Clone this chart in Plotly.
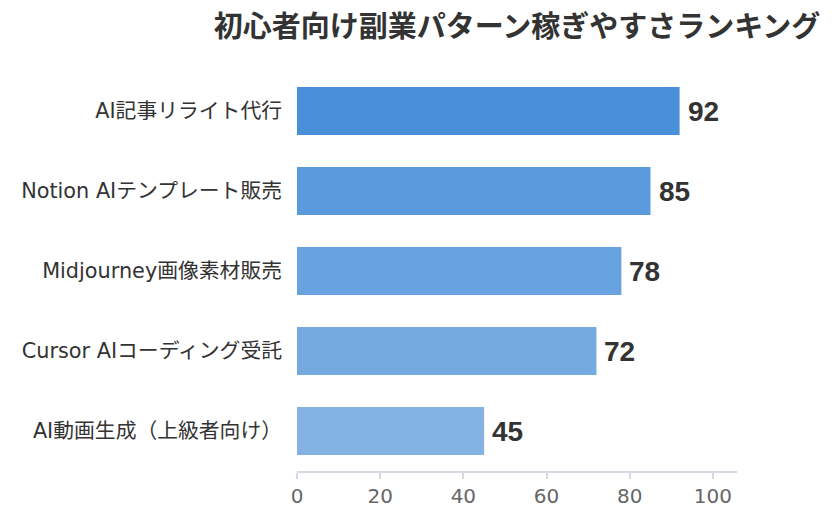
import plotly.graph_objects as go

categories = ["AI記事リライト代行", "Notion AIテンプレート販売", "Midjourney画像素材販売",
              "Cursor AIコーディング受託", "AI動画生成（上級者向け）"]
values = [92, 85, 78, 72, 45]
colors = ["#4a90d9", "#5a9add", "#68a3df", "#74aae0", "#84b3e3"]
title = "初心者向け副業パターン稼ぎやすさランキング"

font_jp = "DejaVu Sans, Noto Sans CJK JP"

fig = go.Figure()
fig.add_trace(go.Bar(
    x=values, y=categories, orientation="h",
    marker=dict(color=colors, line=dict(width=0)),
    width=0.6, hoverinfo="skip",
))

for v, c in zip(values, categories):
    fig.add_annotation(x=v, y=c, text="<b>" + str(v) + "</b>", showarrow=False,
                       xanchor="left", yanchor="middle", xshift=6,
                       font=dict(family="Liberation Sans, Arial", size=28, color="#333333"))

fig.update_layout(
    width=838, height=523,
    margin=dict(l=297, r=101, t=71, b=52),
    paper_bgcolor="white", plot_bgcolor="white",
    showlegend=False,
    title=dict(text="<b>" + title + "</b>", x=0.5, xref="paper", xanchor="center",
               y=0.948, yanchor="middle",
               font=dict(family="Noto Sans CJK JP", size=29, color="#333333")),
    xaxis=dict(range=[0, max(values) * 1.15], showgrid=False, zeroline=False,
               showline=True, linecolor="#d5d9e3", linewidth=2,
               ticks="outside", tickcolor="#d5d9e3", ticklen=6, tickwidth=2,
               dtick=20, tickfont=dict(family=font_jp, size=20, color="#666666")),
    yaxis=dict(autorange="reversed", showgrid=False, zeroline=False, showline=False,
               ticks="", ticklabelstandoff=14,
               tickfont=dict(family=font_jp, size=20.8, color="#333333")),
)

fig.write_html("out.html")
